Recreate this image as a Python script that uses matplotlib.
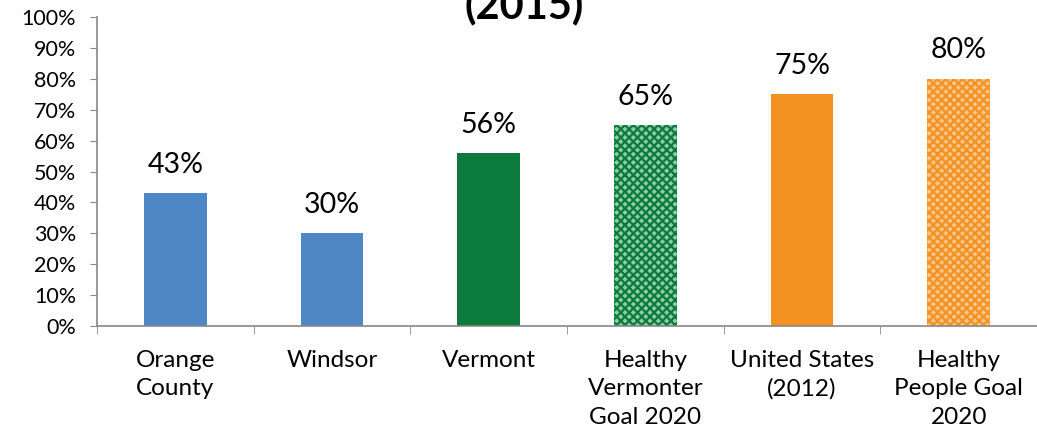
import matplotlib.pyplot as plt
import numpy as np

# Data
categories = ["Orange\nCounty", "Windsor", "Vermont", "Healthy\nVermonter\nGoal 2020",
              "United States\n(2012)", "Healthy\nPeople Goal\n2020"]
values = [43, 30, 56, 65, 75, 80]
labels = ["43%", "30%", "56%", "65%", "75%", "80%"]

face = ["#4f86c6", "#4f86c6", "#0b7a3a", "#8fcca5", "#f3921f", "#f9c58a"]
edge = ["#4f86c6", "#4f86c6", "#0b7a3a", "#0b7a3a", "#f3921f", "#f3921f"]
hatch = [None, None, None, "xxxx", None, "xxxx"]

plt.rcParams['font.family'] = ['Lato', 'DejaVu Sans']
plt.rcParams['hatch.linewidth'] = 1.6

fig = plt.figure(figsize=(10.37, 4.37), dpi=100)
ax = fig.add_axes([97 / 1037, 1 - 326 / 437, 1 - 97 / 1037, (326 - 17) / 437])

x = np.arange(len(values))
for i in x:
    ax.bar(i, values[i], width=0.4, color=face[i], edgecolor=edge[i],
           hatch=hatch[i], linewidth=0)
    ax.text(i, values[i] + 5, labels[i], ha='center', va='bottom', fontsize=20.5)

ax.set_xlim(-0.5, len(values) - 0.5)
ax.set_ylim(0, 100)
ax.set_yticks(np.arange(0, 101, 10))
ax.set_yticklabels([f"{v}%" for v in range(0, 101, 10)], fontsize=15.5)
ax.set_xticks(x)
ax.set_xticklabels(categories, fontsize=17.5, linespacing=1.45)
ax.tick_params(axis='x', length=0, pad=17)
ax.set_xticks(np.arange(-0.5, len(values), 1), minor=True)
ax.tick_params(axis='x', which='minor', length=6, color='#888888')
ax.tick_params(axis='y', length=5, color='#888888', pad=10)

for s in ['top', 'right']:
    ax.spines[s].set_visible(False)
for s in ['left', 'bottom']:
    ax.spines[s].set_color('#888888')
    ax.spines[s].set_linewidth(1.2)

# title, cut off at top of the image like in the original
fig.text(0.505, 1 - 18 / 437, "(2015)", ha='center', va='baseline',
         fontsize=30, fontweight='bold')

fig.savefig("out.png", dpi=100)
